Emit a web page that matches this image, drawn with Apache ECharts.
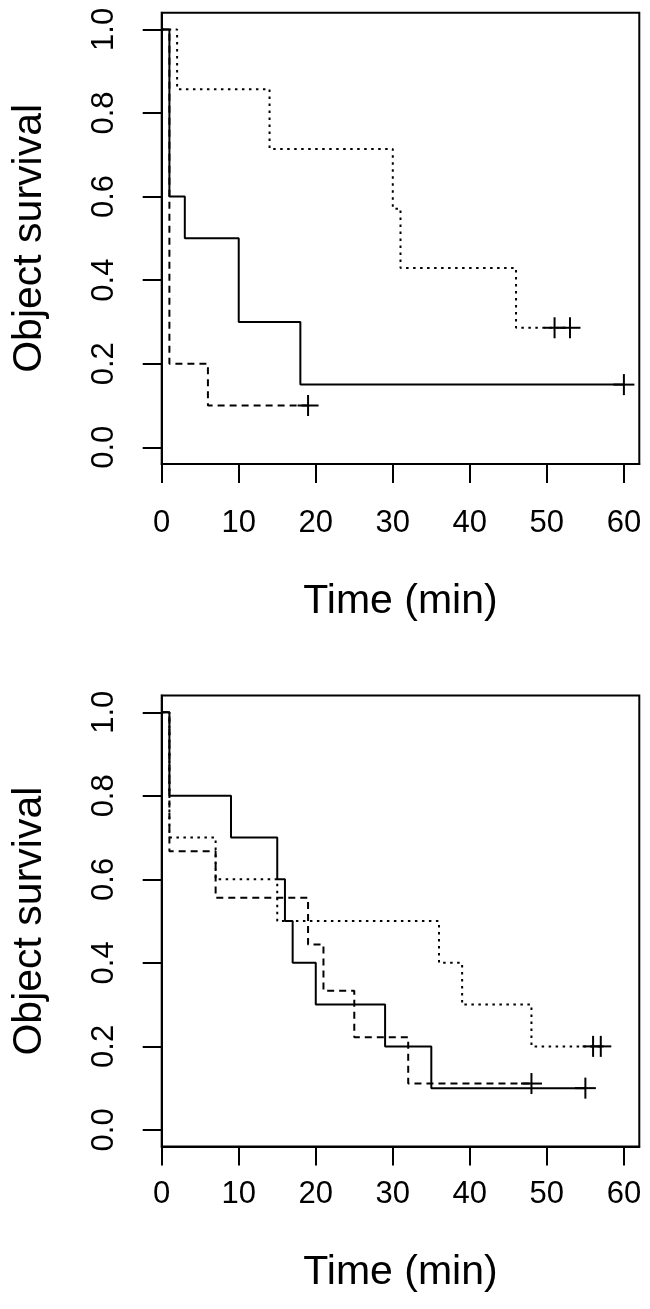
<!DOCTYPE html>
<html><head><meta charset="utf-8">
<script src="https://cdn.jsdelivr.net/npm/echarts@6/dist/echarts.min.js"></script>
<style>html,body{margin:0;padding:0;background:#fff}#c{width:650px;height:1309px}</style>
</head><body><div id="c"></div>
<script>
// ---- tick labels / titles ----
const xTicks = [0, 10, 20, 30, 40, 50, 60];
const yTicks = [0, 0.2, 0.4, 0.6, 0.8, 1.0];
const xTitle = 'Time (min)';
const yTitle = 'Object survival';

// ---- top panel ----
const topSolidTime = [0, 1, 3, 10, 18, 60];
const topSolidSurv = [1, 0.6, 0.5, 0.3, 0.15, 0.15];
const topSolidCensTime = [60];
const topSolidCensSurv = [0.15];

const topDashTime = [0, 1, 6, 19];
const topDashSurv = [1, 0.2, 0.1, 0.1];
const topDashCensTime = [19];
const topDashCensSurv = [0.1];

const topDotTime = [0, 2, 14, 30, 31, 46, 53];
const topDotSurv = [1, 0.857, 0.714, 0.571, 0.429, 0.286, 0.286];
const topDotCensTime = [51, 53];
const topDotCensSurv = [0.286, 0.286];

// ---- bottom panel ----
const botSolidTime = [0, 1, 9, 15, 16, 17, 20, 29, 35, 55];
const botSolidSurv = [1, 0.8, 0.7, 0.6, 0.5, 0.4, 0.3, 0.2, 0.1, 0.1];
const botSolidCensTime = [55];
const botSolidCensSurv = [0.1];

const botDashTime = [0, 1, 7, 19, 21, 25, 32, 48];
const botDashSurv = [1, 0.667, 0.556, 0.444, 0.333, 0.222, 0.111, 0.111];
const botDashCensTime = [48];
const botDashCensSurv = [0.111];

const botDotTime = [0, 1, 7, 15, 36, 39, 48, 57];
const botDotSurv = [1, 0.7, 0.6, 0.5, 0.4, 0.3, 0.2, 0.2];
const botDotCensTime = [56, 57];
const botDotCensSurv = [0.2, 0.2];

const FONT = 'Liberation Sans';
const LW = 2;
const DASH = [7, 5];
const DOT = [2.5, 4.5];

function zip(a, b) { return a.map((v, i) => [v, b[i]]); }

function stepSeries(gi, times, survs, type) {
  return {
    type: 'line', xAxisIndex: gi, yAxisIndex: gi, step: 'end',
    data: zip(times, survs), showSymbol: false, symbol: 'none',
    lineStyle: { color: '#000', width: LW, type: type, cap: 'butt' },
    silent: true, animation: false, z: 3
  };
}

function censorSeries(gi, times, survs) {
  return {
    type: 'custom', xAxisIndex: gi, yAxisIndex: gi,
    data: zip(times, survs), silent: true, animation: false, z: 5,
    renderItem: function (params, api) {
      const p = api.coord([api.value(0), api.value(1)]);
      const h = 10.5;
      return {
        type: 'group', children: [
          { type: 'line', shape: { x1: p[0] - h, y1: p[1], x2: p[0] + h, y2: p[1] }, style: { stroke: '#000', lineWidth: LW } },
          { type: 'line', shape: { x1: p[0], y1: p[1] - h, x2: p[0], y2: p[1] + h }, style: { stroke: '#000', lineWidth: LW } }
        ]
      };
    }
  };
}

function makeX(gi, labelMargin, nameGap) {
  return {
    type: 'value', gridIndex: gi, min: 0, max: 62,
    axisLine: { show: true, onZero: false, lineStyle: { color: '#000', width: LW } },
    splitLine: { show: false },
    axisTick: { show: true, inside: false, customValues: xTicks, length: 19, lineStyle: { color: '#000', width: LW } },
    axisLabel: { customValues: xTicks, fontSize: 31, color: '#000', fontFamily: FONT, margin: labelMargin },
    name: xTitle, nameLocation: 'middle', nameGap: nameGap,
    nameTextStyle: { fontSize: 41, color: '#000', fontFamily: FONT }
  };
}

function makeY(gi) {
  return {
    type: 'value', gridIndex: gi, min: -0.04, max: 1.04,
    axisLine: { show: true, onZero: false, lineStyle: { color: '#000', width: LW } },
    splitLine: { show: false },
    axisTick: { show: true, inside: false, customValues: yTicks, length: 19, lineStyle: { color: '#000', width: LW } },
    axisLabel: { customValues: yTicks, fontSize: 31, color: '#000', fontFamily: FONT, margin: 42, rotate: 90,
      formatter: v => Number(v).toFixed(1) },
    name: yTitle, nameLocation: 'middle', nameGap: 112, nameRotate: 90,
    nameTextStyle: { fontSize: 41, color: '#000', fontFamily: FONT }
  };
}

const chart = echarts.init(document.getElementById('c'), null, { renderer: 'canvas' });
chart.setOption({
  animation: false,
  backgroundColor: '#fff',
  grid: [
    { left: 161.7, top: 12.7, width: 477.6, height: 451.3, show: true, borderColor: '#000', borderWidth: LW, backgroundColor: 'transparent', containLabel: false },
    { left: 161.7, top: 695.6, width: 477.6, height: 451.0, show: true, borderColor: '#000', borderWidth: LW, backgroundColor: 'transparent', containLabel: false }
  ],
  xAxis: [makeX(0, 44, 117), makeX(1, 32, 106)],
  yAxis: [makeY(0), makeY(1)],
  series: [
    stepSeries(0, topSolidTime, topSolidSurv, 'solid'),
    stepSeries(0, topDashTime, topDashSurv, DASH),
    stepSeries(0, topDotTime, topDotSurv, DOT),
    censorSeries(0, topSolidCensTime, topSolidCensSurv),
    censorSeries(0, topDashCensTime, topDashCensSurv),
    censorSeries(0, topDotCensTime, topDotCensSurv),
    stepSeries(1, botSolidTime, botSolidSurv, 'solid'),
    stepSeries(1, botDashTime, botDashSurv, DASH),
    stepSeries(1, botDotTime, botDotSurv, DOT),
    censorSeries(1, botSolidCensTime, botSolidCensSurv),
    censorSeries(1, botDashCensTime, botDashCensSurv),
    censorSeries(1, botDotCensTime, botDotCensSurv)
  ]
});
</script></body></html>
